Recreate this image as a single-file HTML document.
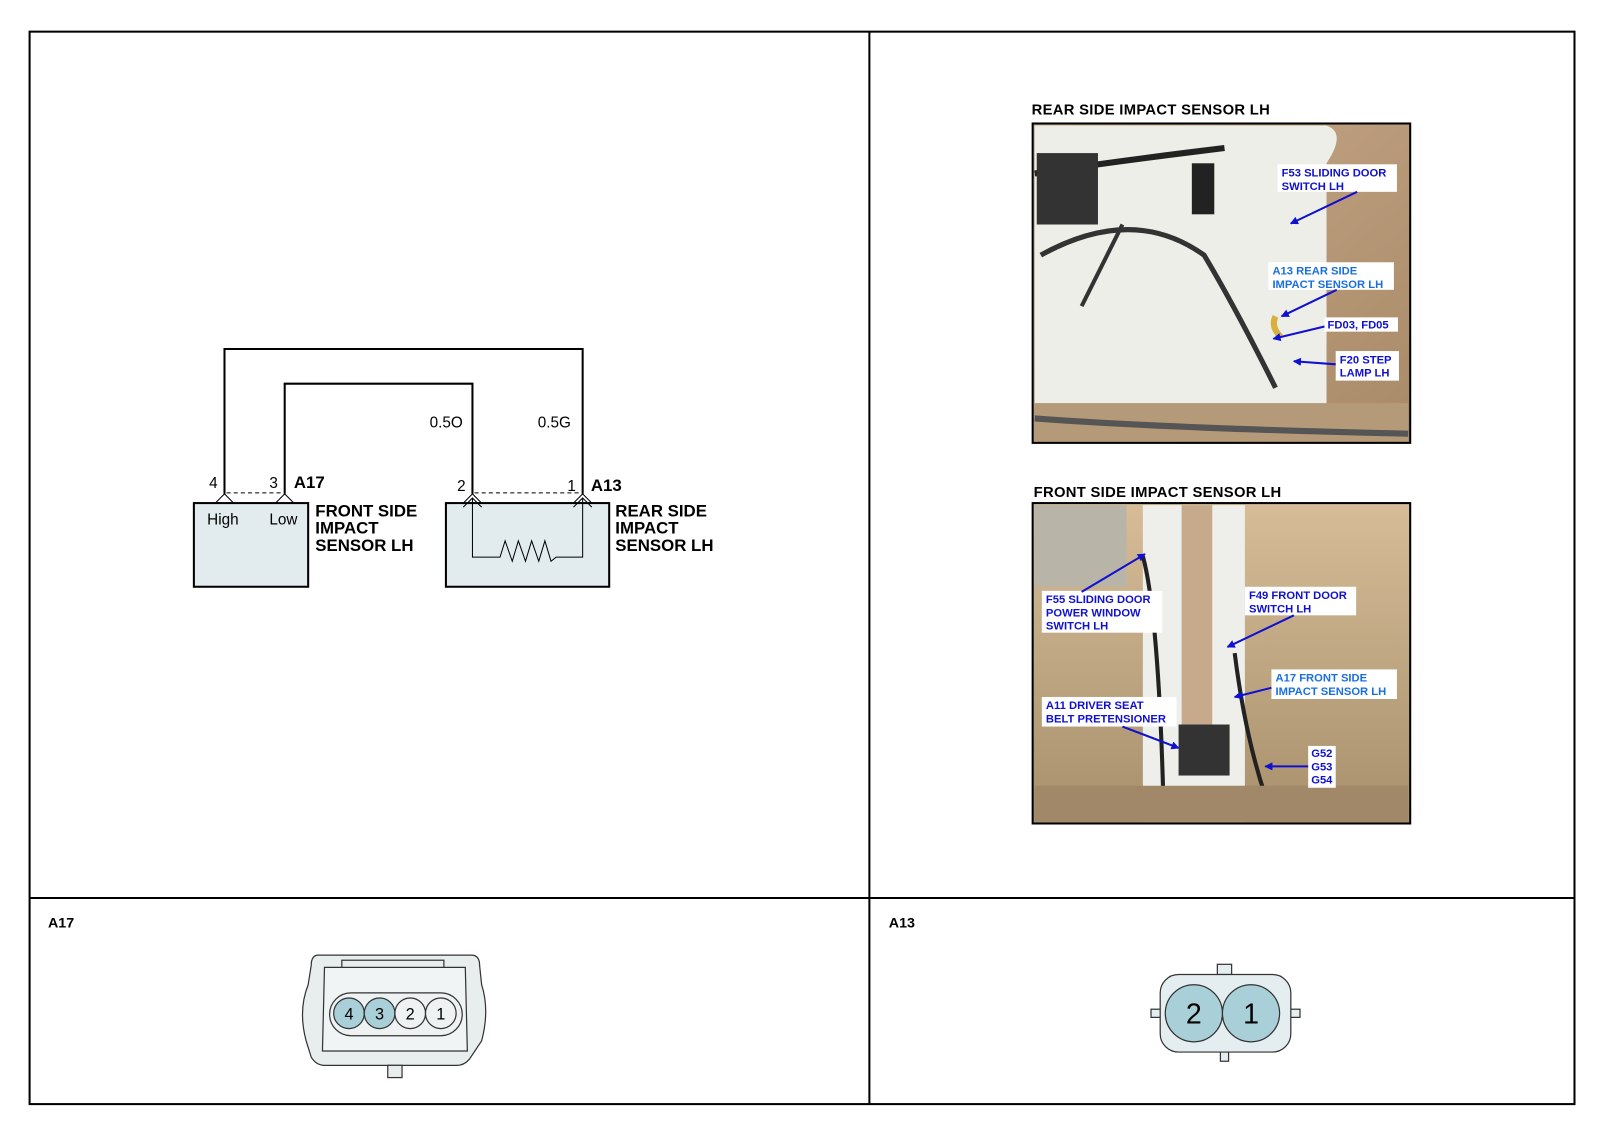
<!DOCTYPE html>
<html><head><meta charset="utf-8"><style>
html,body{margin:0;padding:0;background:#fff;}
svg{display:block;}
text{font-family:"Liberation Sans",sans-serif;}
.b{font-weight:bold;}
.lb{font-weight:bold;font-size:11px;fill:#1010d0;}
.lc{font-weight:bold;font-size:11px;fill:#1a6fe0;}
</style></head><body>
<svg width="1600" height="1143" viewBox="0 0 1568 1120.1" xmlns="http://www.w3.org/2000/svg">
<defs>
<linearGradient id="tan" x1="0" y1="0" x2="1" y2="1"><stop offset="0" stop-color="#c9a98a"/><stop offset="1" stop-color="#a88a68"/></linearGradient>
<linearGradient id="tan2" x1="0" y1="0" x2="0" y2="1"><stop offset="0" stop-color="#d6bd98"/><stop offset="1" stop-color="#a8906c"/></linearGradient>
<marker id="ar" markerWidth="8" markerHeight="8" refX="7" refY="4" orient="auto" markerUnits="userSpaceOnUse"><path d="M0,0 L8,4 L0,8 z" fill="#1010d0"/></marker>
</defs>
<g fill="none" stroke="#000" stroke-width="2">
<rect x="29" y="31" width="1514" height="1051"/>
<line x1="852" y1="31" x2="852" y2="1082"/>
<line x1="29" y1="880" x2="1543" y2="880"/>
</g>
<g fill="none" stroke="#000" stroke-width="2">
<polyline points="220,484 220,342 571,342 571,484"/>
<polyline points="279,484 279,376 463,376 463,484"/>
</g>
<g stroke="#000" stroke-width="1" stroke-dasharray="4,3">
<line x1="222" y1="483" x2="277" y2="483"/>
<line x1="465" y1="483" x2="569" y2="483"/>
</g>
<rect x="190" y="493" width="112" height="82" fill="#e2ecee" stroke="#000" stroke-width="2"/>
<rect x="437" y="493" width="160" height="82" fill="#e2ecee" stroke="#000" stroke-width="2"/>
<g fill="none" stroke="#000" stroke-width="1">
<polyline points="211,493 220,484 229,493"/>
<polyline points="270,493 279,484 288,493"/>
<polyline points="454,493 463,484 472,493"/>
<polyline points="562,493 571,484 580,493"/>
<polyline points="454,497 463,488 472,497"/>
<polyline points="562,497 571,488 580,497"/>
<polyline points="463,488 463,546 490,546 495,530 502,550 508,530 515,550 521,530 528,550 534,530 540,550 545,546 571,546 571,488"/>
</g>
<g font-size="15">
<text x="205" y="478">4</text><text x="264" y="478">3</text>
<text x="448" y="481">2</text><text x="556" y="481">1</text>
<text x="421" y="419">0.5O</text><text x="527" y="419">0.5G</text>
<text x="203" y="514">High</text><text x="264" y="514">Low</text>
</g>
<g class="b" font-size="16.5">
<text x="288" y="478">A17</text><text x="579" y="481">A13</text>
<text x="309" y="506">FRONT SIDE</text><text x="309" y="523">IMPACT</text><text x="309" y="540">SENSOR LH</text>
<text x="603" y="506">REAR SIDE</text><text x="603" y="523">IMPACT</text><text x="603" y="540">SENSOR LH</text>
</g>
<text x="1011" y="112" font-size="14.5" class="b" letter-spacing="0.3">REAR SIDE IMPACT SENSOR LH</text>
<text x="1013" y="487" font-size="14.5" class="b" letter-spacing="0.3">FRONT SIDE IMPACT SENSOR LH</text>
<rect x="1012" y="121" width="370" height="313" fill="url(#tan)"/>
<path d="M1014,123 L1300,123 Q1320,130 1300,160 L1300,400 L1014,400 Z" fill="#eeeee8"/>
<rect x="1014" y="395" width="366" height="38" fill="#b49a78"/>
<path d="M1014,410 Q1150,420 1380,425" stroke="#555" stroke-width="6" fill="none"/>
<path d="M1014,170 Q1080,160 1160,150 L1200,145" stroke="#222" stroke-width="6" fill="none"/>
<rect x="1016" y="150" width="60" height="70" fill="#333"/>
<path d="M1020,250 Q1110,200 1180,250 Q1210,300 1250,380" stroke="#333" stroke-width="5" fill="none"/>
<path d="M1100,220 Q1080,260 1060,300" stroke="#333" stroke-width="4" fill="none"/>
<rect x="1168" y="160" width="22" height="50" fill="#222"/>
<path d="M1250,310 Q1245,320 1255,330" stroke="#d8b040" stroke-width="6" fill="none"/>
<rect x="1012" y="121" width="370" height="313" fill="none" stroke="#000" stroke-width="2"/>
<g fill="#fff">
<rect x="1252" y="161" width="117" height="27"/><rect x="1243" y="257" width="123" height="27"/>
<rect x="1298" y="311" width="72" height="14"/><rect x="1309" y="344" width="62" height="29"/>
</g>
<text class="lb" x="1256" y="173">F53 SLIDING DOOR</text><text class="lb" x="1256" y="186">SWITCH LH</text>
<text class="lc" x="1247" y="269">A13 REAR SIDE</text><text class="lc" x="1247" y="282">IMPACT SENSOR LH</text>
<text class="lb" x="1301" y="322">FD03, FD05</text>
<text class="lb" x="1313" y="356">F20 STEP</text><text class="lb" x="1313" y="369">LAMP LH</text>
<g stroke="#1010d0" stroke-width="2" marker-end="url(#ar)">
<line x1="1330" y1="188" x2="1265" y2="219"/><line x1="1310" y1="284" x2="1256" y2="310"/>
<line x1="1298" y1="320" x2="1248" y2="332"/><line x1="1309" y1="357" x2="1268" y2="354"/>
</g>
<rect x="1012" y="493" width="370" height="314" fill="url(#tan2)"/>
<rect x="1120" y="495" width="100" height="310" fill="#eeeeea"/>
<rect x="1158" y="495" width="30" height="230" fill="#c7a98c"/>
<rect x="1014" y="495" width="90" height="80" fill="#b8b4a8"/>
<rect x="1155" y="710" width="50" height="50" fill="#333"/>
<path d="M1120,545 Q1135,600 1140,780" stroke="#222" stroke-width="4" fill="none"/>
<path d="M1210,640 Q1220,720 1240,780" stroke="#222" stroke-width="4" fill="none"/>
<rect x="1014" y="770" width="366" height="35" fill="#a08868"/>
<rect x="1012" y="493" width="370" height="314" fill="none" stroke="#000" stroke-width="2"/>
<g fill="#fff">
<rect x="1021" y="579" width="118" height="41"/><rect x="1220" y="575" width="109" height="28"/>
<rect x="1246" y="656" width="123" height="29"/><rect x="1021" y="683" width="132" height="29"/>
<rect x="1282" y="731" width="27" height="41"/>
</g>
<text class="lb" x="1025" y="591">F55 SLIDING DOOR</text><text class="lb" x="1025" y="604">POWER WINDOW</text><text class="lb" x="1025" y="617">SWITCH LH</text>
<text class="lb" x="1224" y="587">F49 FRONT DOOR</text><text class="lb" x="1224" y="600">SWITCH LH</text>
<text class="lc" x="1250" y="668">A17 FRONT SIDE</text><text class="lc" x="1250" y="681">IMPACT SENSOR LH</text>
<text class="lb" x="1025" y="695">A11 DRIVER SEAT</text><text class="lb" x="1025" y="708">BELT PRETENSIONER</text>
<text class="lb" x="1285" y="742">G52</text><text class="lb" x="1285" y="755">G53</text><text class="lb" x="1285" y="768">G54</text>
<g stroke="#1010d0" stroke-width="2" marker-end="url(#ar)">
<line x1="1060" y1="580" x2="1122" y2="543"/><line x1="1268" y1="603" x2="1203" y2="634"/>
<line x1="1246" y1="674" x2="1210" y2="683"/><line x1="1100" y1="712" x2="1155" y2="733"/>
<line x1="1282" y1="751" x2="1240" y2="751"/>
</g>
<text class="b" x="47" y="909" font-size="14">A17</text>
<text class="b" x="871" y="909" font-size="14">A13</text>
<g stroke="#333" stroke-width="1.2" fill="#e8eeee">
<path d="M312,936 L462,936 Q470,936 470,946 L472,965 Q480,990 472,1020 L460,1038 Q455,1044 448,1044 L318,1044 Q310,1044 305,1036 L300,1020 Q292,990 302,965 L305,946 Q305,936 312,936 Z"/>
<path d="M318,948 L456,948 L458,1030 L316,1030 Z" fill="#f0f4f4"/>
<rect x="323" y="973" width="130" height="42" rx="21" fill="#eef2f2"/>
<rect x="380" y="1044" width="14" height="12"/>
<rect x="335" y="941" width="100" height="7"/>
</g>
<g stroke="#333" stroke-width="1.2">
<circle cx="342" cy="993" r="15" fill="#a9d0d8"/><circle cx="372" cy="993" r="15" fill="#a9d0d8"/>
<circle cx="402" cy="993" r="15" fill="#eef2f2"/><circle cx="432" cy="993" r="15" fill="#eef2f2"/>
</g>
<g font-size="16" text-anchor="middle"><text x="342" y="999">4</text><text x="372" y="999">3</text><text x="402" y="999">2</text><text x="432" y="999">1</text></g>
<g stroke="#333" stroke-width="1.2" fill="#e4eef0">
<rect x="1193" y="945" width="14" height="10"/>
<rect x="1128" y="989" width="10" height="8"/><rect x="1264" y="989" width="10" height="8"/>
<rect x="1196" y="1028" width="8" height="12"/>
<rect x="1137" y="955" width="128" height="76" rx="18"/>
<circle cx="1170" cy="993" r="28" fill="#a9d0d8"/><circle cx="1226" cy="993" r="28" fill="#a9d0d8"/>
</g>
<g font-size="28" text-anchor="middle"><text x="1170" y="1003">2</text><text x="1226" y="1003">1</text></g>
</svg>
</body></html>
